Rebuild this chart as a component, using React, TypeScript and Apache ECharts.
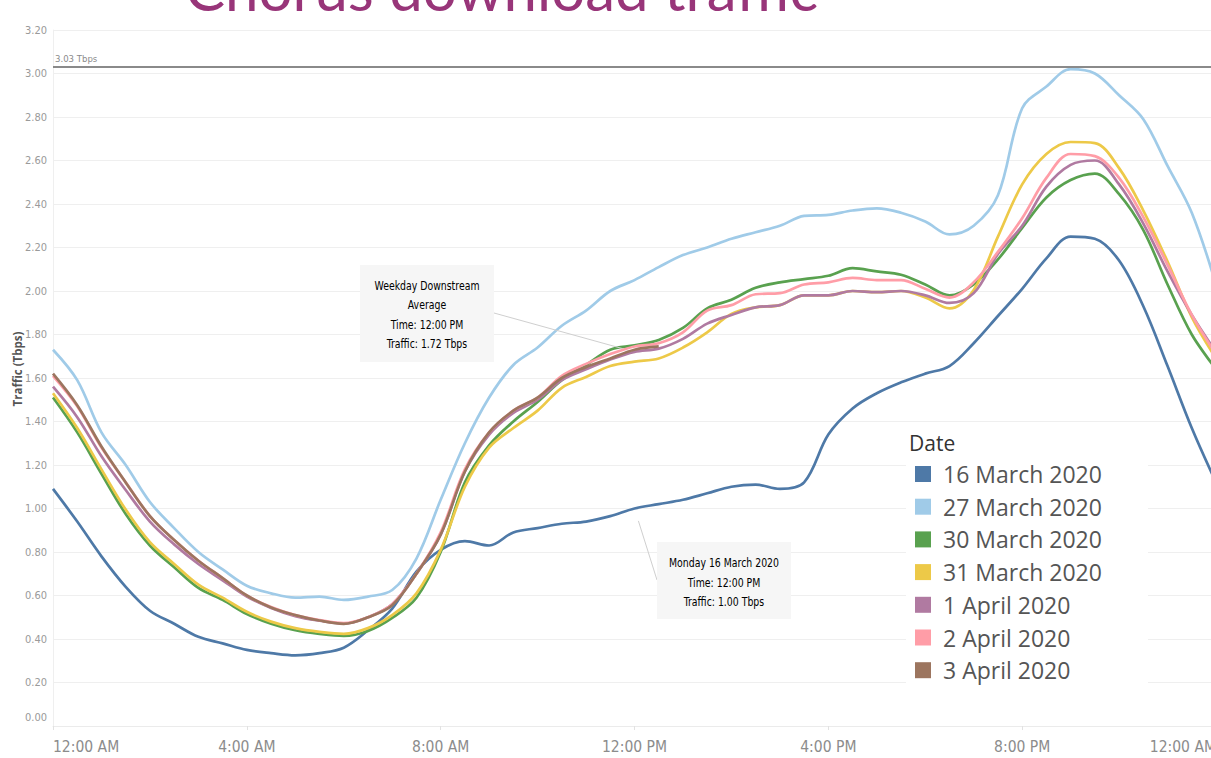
import React, { useEffect, useRef } from "react";
import * as echarts from "echarts";

// Hours of the day (x values)
const HOURS = [
  0, 0.5, 1, 1.5, 2, 2.5, 3, 3.5, 4, 4.5, 5, 5.5, 6, 6.5, 7, 7.5, 8, 8.5, 9, 9.5,
  10, 10.5, 11, 11.5, 12, 12.5, 13, 13.5, 14, 14.5, 15, 15.5, 16, 16.5, 17, 17.5,
  18, 18.5, 19, 19.5, 20, 20.5, 21, 21.5, 22, 22.5, 23, 23.5, 24,
];

const X_TICK_LABELS = ["12:00 AM", "4:00 AM", "8:00 AM", "12:00 PM", "4:00 PM", "8:00 PM", "12:00 AM"];

const SERIES_NAMES = [
  "16 March 2020",
  "27 March 2020",
  "30 March 2020",
  "31 March 2020",
  "1 April 2020",
  "2 April 2020",
  "3 April 2020",
];
const SERIES_COLORS = ["#4e79a7", "#a0cbe8", "#59a14f", "#edc948", "#b07aa1", "#ff9da7", "#9c755f"];

// Traffic (Tbps)
const MAR16 = [
  1.09, 0.94, 0.78, 0.64, 0.53, 0.47, 0.41, 0.38, 0.35, 0.335, 0.325, 0.335, 0.36, 0.44, 0.54, 0.71,
  0.81, 0.85, 0.83, 0.89, 0.91, 0.93, 0.94, 0.965, 1.0, 1.02, 1.04, 1.07, 1.1, 1.11, 1.09, 1.12,
  1.34, 1.46, 1.53, 1.58, 1.62, 1.655, 1.76, 1.885, 2.01, 2.15, 2.25, 2.24, 2.14, 1.93, 1.655, 1.37,
  1.12,
];
const MAR27 = [
  1.73, 1.59, 1.35, 1.2, 1.03, 0.91, 0.8, 0.72, 0.645, 0.61, 0.59, 0.595, 0.58, 0.595, 0.625, 0.77,
  1.04, 1.3, 1.51, 1.66, 1.74, 1.84, 1.91, 2.0, 2.05, 2.11, 2.165, 2.2, 2.24, 2.27, 2.3, 2.345,
  2.35, 2.37, 2.38, 2.36, 2.32, 2.26, 2.3, 2.44, 2.84, 2.94, 3.02, 3.0, 2.9, 2.79, 2.575, 2.36,
  2.03,
];
const MAR30 = [
  1.51, 1.35, 1.16, 0.975, 0.83, 0.73, 0.635, 0.58, 0.515, 0.47, 0.44, 0.423, 0.414, 0.437, 0.497, 0.59,
  0.8, 1.12, 1.29, 1.4, 1.49, 1.59, 1.66, 1.73, 1.75, 1.775, 1.83, 1.92, 1.96, 2.015, 2.04, 2.055,
  2.07, 2.105, 2.09, 2.075, 2.03, 1.98, 2.03, 2.145, 2.29, 2.43, 2.51, 2.54, 2.445, 2.28, 2.03, 1.8,
  1.64,
];
const MAR31 = [
  1.53, 1.37, 1.18, 0.995, 0.845, 0.745, 0.65, 0.59, 0.525, 0.48, 0.45, 0.433, 0.424, 0.45, 0.51, 0.61,
  0.81, 1.1, 1.28, 1.37, 1.45, 1.555, 1.605, 1.655, 1.675, 1.69, 1.74, 1.81, 1.895, 1.925, 1.935, 1.98,
  1.98, 2.0, 1.995, 2.0, 1.97, 1.92, 2.005, 2.25, 2.49, 2.63, 2.685, 2.68, 2.565, 2.37, 2.135, 1.88,
  1.69,
];
const APR1 = [
  1.56, 1.42, 1.24, 1.085, 0.94, 0.835, 0.745, 0.67, 0.595, 0.543, 0.505, 0.484, 0.471, 0.5, 0.56, 0.7,
  0.88, 1.17, 1.34, 1.44, 1.5, 1.59, 1.64, 1.685, 1.72, 1.735, 1.78, 1.85, 1.89, 1.925, 1.935, 1.98,
  1.98, 2.0, 1.995, 2.0, 1.98, 1.945, 1.99, 2.17, 2.3, 2.48, 2.58, 2.6, 2.49, 2.31, 2.09, 1.89,
  1.72,
];
const APR2 = [
  1.61, 1.47, 1.28, 1.12, 0.965, 0.855, 0.76, 0.68, 0.6, 0.547, 0.51, 0.487, 0.473, 0.5, 0.56, 0.7,
  0.89, 1.18, 1.35, 1.45, 1.51, 1.61, 1.665, 1.71, 1.745, 1.76, 1.81, 1.91, 1.935, 1.985, 1.99, 2.03,
  2.04, 2.06, 2.05, 2.05, 2.01, 1.97, 2.04, 2.18, 2.335, 2.52, 2.63, 2.62, 2.52, 2.34, 2.12, 1.89,
  1.71,
];
const APR3 = [
  1.62, 1.475, 1.285, 1.12, 0.965, 0.855, 0.76, 0.68, 0.6, 0.545, 0.51, 0.485, 0.47, 0.5, 0.555, 0.7,
  0.88, 1.17, 1.35, 1.45, 1.51, 1.6, 1.65, 1.69, 1.73, 1.745,
];

const SERIES_VALUES = [MAR16, MAR27, MAR30, MAR31, APR1, APR2, APR3];

const REF_LINE_VALUE = 3.03;
const REF_LINE_LABEL = "3.03 Tbps";
const AVG_POINT = { hour: 12, value: 1.72 };
const MON_POINT = { hour: 12, value: 1.0 };

const NARROW = "'Liberation Sans Narrow', 'Arial Narrow', 'DejaVu Sans Condensed', 'Roboto Condensed', sans-serif";
const SANS = "'Open Sans', 'Noto Sans', sans-serif";

export default function App() {
  const ref = useRef<HTMLDivElement>(null);

  useEffect(() => {
    if (!ref.current) return;
    const chart = echarts.init(ref.current, null, { renderer: "svg" });

    const series: any[] = SERIES_NAMES.map((name, i) => ({
      name,
      type: "line",
      data: SERIES_VALUES[i].map((v, j) => [HOURS[j], v]),
      showSymbol: false,
      smooth: 0.35,
      lineStyle: { color: SERIES_COLORS[i], width: 2.7 },
      itemStyle: { color: SERIES_COLORS[i] },
      emphasis: { disabled: true },
      z: 2,
    }));
    series[1].markLine = {
      silent: true,
      symbol: "none",
      animation: false,
      data: [{ yAxis: REF_LINE_VALUE }],
      lineStyle: { color: "#8a8a8a", width: 2, type: "solid" },
      label: {
        position: "insideStartTop",
        formatter: REF_LINE_LABEL,
        color: "#8a8a8a",
        fontSize: 9.5,
        fontFamily: NARROW,
        distance: [2, 3],
      },
    };

    chart.setOption({
      animation: false,
      backgroundColor: "#ffffff",
      grid: {
        left: 53,
        top: 30,
        width: 1163,
        height: 696,
        containLabel: false,
        outerBoundsMode: "none",
      },
      xAxis: {
        type: "value",
        min: 0,
        max: 24,
        interval: 4,
        axisLine: { show: true, lineStyle: { color: "#ebebeb" } },
        axisTick: { show: true, length: 4, lineStyle: { color: "#e2e2e2" } },
        splitLine: { show: false },
        axisLabel: {
          formatter: (v: number) => X_TICK_LABELS[Math.round(v / 4)],
          color: "#8c8c8c",
          fontSize: 15.5,
          fontFamily: NARROW,
          margin: 13,
          showMinLabel: true,
          showMaxLabel: true,
          alignMinLabel: "left",
          alignMaxLabel: "right",
        },
      },
      yAxis: {
        type: "value",
        min: 0,
        max: 3.2,
        interval: 0.2,
        axisLine: { show: true, lineStyle: { color: "#efefef" } },
        axisTick: { show: false },
        splitLine: { show: true, lineStyle: { color: "#efefef", width: 1 } },
        axisLabel: {
          formatter: (v: number) => (v === 0 ? "{z|0.00}" : v.toFixed(2)),
          color: "#9a9a9a",
          fontSize: 11,
          fontFamily: NARROW,
          margin: 6,
          rich: { z: { fontSize: 11, fontFamily: NARROW, color: "#9a9a9a", padding: [0, 0, 18, 0] } },
        },
      },
      legend: {
        data: SERIES_NAMES,
        orient: "vertical",
        left: 915,
        top: 462,
        padding: 0,
        itemWidth: 16,
        itemHeight: 16,
        itemGap: 8.7,
        icon: "rect",
        selectedMode: false,
        z: 6,
        textStyle: {
          color: "#555555",
          fontSize: 23,
          fontFamily: SANS,
          lineHeight: 24,
          padding: [0, 0, 0, 7],
        },
      },
      series,
    });

    const p1 = chart.convertToPixel({ gridIndex: 0 }, [AVG_POINT.hour, AVG_POINT.value]) as number[];
    const p2 = chart.convertToPixel({ gridIndex: 0 }, [MON_POINT.hour, MON_POINT.value]) as number[];
    const box1 = { x: 360, y: 265, w: 134, h: 97 };
    const box2 = { x: 657, y: 542, w: 134, h: 77 };
    const end1 = [box1.x + box1.w, box1.y + 48];
    const end2 = [box2.x, box2.y + 38];
    const gap = (p: number[], e: number[]) => {
      const dx = e[0] - p[0];
      const dy = e[1] - p[1];
      const d = Math.sqrt(dx * dx + dy * dy);
      return [p[0] + (dx / d) * 13, p[1] + (dy / d) * 13];
    };
    const s1 = gap(p1, end1);
    const s2 = gap(p2, end2);

    const richBox = {
      t: { fontSize: 13, fontFamily: NARROW, color: "#333333", lineHeight: 19.5 },
      l: { fontSize: 13, fontFamily: NARROW, color: "#7a7a7a", lineHeight: 19.5 },
      v: { fontSize: 13, fontFamily: NARROW, color: "#333333", lineHeight: 19.5, fontWeight: 500 },
    };

    chart.setOption({
      graphic: [
        {
          type: "text",
          x: 185,
          y: -12,
          z: 10,
          style: {
            text: "Chorus download traffic",
            fill: "#983579",
            fontSize: 60,
            fontFamily: "Lato, 'Open Sans', sans-serif",
            textAlign: "left",
            textVerticalAlign: "middle",
          },
        },
        {
          type: "text",
          x: 17,
          y: 369,
          rotation: Math.PI / 2,
          z: 10,
          style: {
            text: "Traffic (Tbps)",
            fill: "#555555",
            fontSize: 11.5,
            fontWeight: "bold",
            fontFamily: SANS,
            textAlign: "center",
            textVerticalAlign: "middle",
          },
        },
        {
          type: "rect",
          z: 5,
          shape: { x: 906, y: 426, width: 242, height: 264 },
          style: { fill: "#ffffff" },
        },
        {
          type: "text",
          x: 909,
          y: 443,
          z: 7,
          style: {
            text: "Date",
            fill: "#333333",
            fontSize: 21,
            fontFamily: SANS,
            textAlign: "left",
            textVerticalAlign: "middle",
          },
        },
        {
          type: "line",
          z: 8,
          shape: { x1: s1[0], y1: s1[1], x2: end1[0], y2: end1[1] },
          style: { stroke: "#cfcfcf", lineWidth: 1 },
        },
        {
          type: "rect",
          z: 9,
          shape: { x: box1.x, y: box1.y, width: box1.w, height: box1.h },
          style: { fill: "#f6f6f6" },
        },
        {
          type: "text",
          x: box1.x + box1.w / 2,
          y: box1.y + box1.h / 2 + 1,
          scaleX: 0.8,
          z: 10,
          style: {
            text: "{t|Weekday Downstream}\n{t|Average}\n{l|Time: }{v|12:00 PM}\n{l|Traffic: }{v|1.72 Tbps}",
            rich: richBox,
            textAlign: "center",
            textVerticalAlign: "middle",
          },
        },
        {
          type: "line",
          z: 8,
          shape: { x1: s2[0], y1: s2[1], x2: end2[0], y2: end2[1] },
          style: { stroke: "#cfcfcf", lineWidth: 1 },
        },
        {
          type: "rect",
          z: 9,
          shape: { x: box2.x, y: box2.y, width: box2.w, height: box2.h },
          style: { fill: "#f6f6f6" },
        },
        {
          type: "text",
          x: box2.x + box2.w / 2,
          y: box2.y + box2.h / 2 + 2,
          scaleX: 0.8,
          z: 10,
          style: {
            text: "{t|Monday 16 March 2020}\n{l|Time: }{v|12:00 PM}\n{l|Traffic: }{v|1.00 Tbps}",
            rich: richBox,
            textAlign: "center",
            textVerticalAlign: "middle",
          },
        },
      ],
    });

    return () => chart.dispose();
  }, []);

  return (
    <div
      ref={ref}
      style={{ position: "absolute", left: 0, top: 0, width: 1211, height: 758, overflow: "hidden" }}
    />
  );
}
